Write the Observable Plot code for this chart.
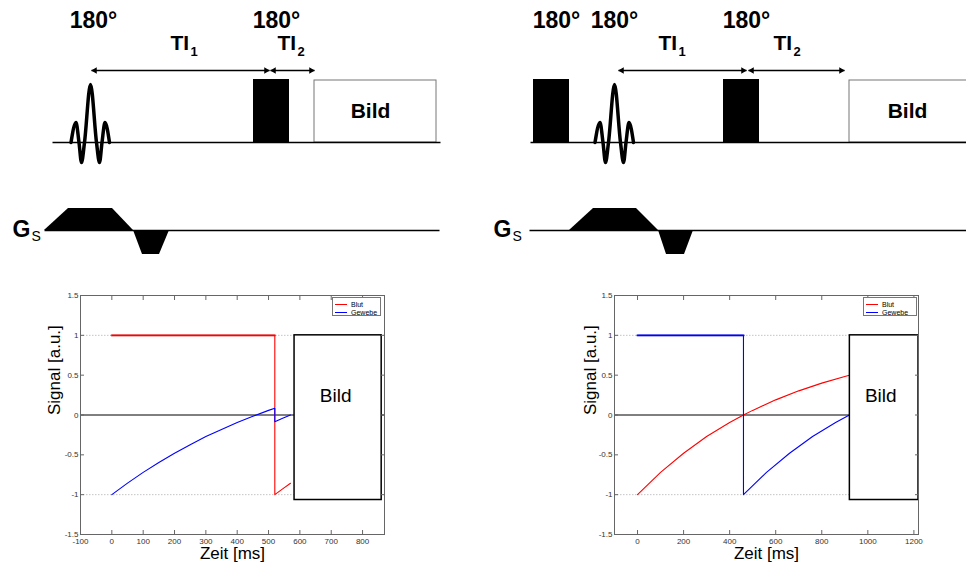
<!DOCTYPE html>
<html><head><meta charset="utf-8">
<script src="https://cdn.jsdelivr.net/npm/d3@7"></script>
<script src="https://cdn.jsdelivr.net/npm/@observablehq/plot@0.6"></script>
<style>
body{margin:0;background:#fff;}
#root{position:relative;width:966px;height:563px;overflow:hidden;background:#fff;font-family:"Liberation Sans",Arial,sans-serif;}
#root > *{position:absolute;}
.legend{border:1px solid #777;background:#fff;font-size:7px;padding:2px 0 0 2px;box-sizing:border-box;color:#000;}
.legend .row{display:flex;align-items:center;height:8px;white-space:nowrap;}
.legend .sw{width:12px;height:0;border-top:1px solid;margin-right:4px;}
</style></head>
<body><div id="root"></div>
<script>
const FONT = '"Liberation Sans", Arial, sans-serif';

// ---------- schematic sequence diagram (schematic units) ----------
const rfBaseY = 142, gsBaseY = 230;
const rfLineX1 = [52, 530], rfLineX2 = [440, 966];
const gsLineX1 = [44, 529], gsLineX2 = [439, 966];
const hardPulseX1 = [253, 533, 723], hardPulseX2 = [289, 569, 759], hardPulseTop = 79;
const bildBoxX1 = [314, 849], bildBoxX2 = [436, 975], bildBoxTop = 80;
const sincCenters = [90, 614];
const sincDx = [-19.5, -14.5, -11.5, -9, -6, 0, 6, 9, 11.5, 14.5, 19];
const sincDy = [0, -20, 0, 20, 0, -58, 0, 20, 0, -20, 0];
const gsPosX = [[44, 68, 112, 133], [569, 593, 636, 658]], gsPosLevel = [0, -22, -22, 0];
const gsNegX = [[133, 142, 159, 169], [658, 666, 684, 693]], gsNegLevel = [0, 24, 24, 0];
const arrowX1 = [91, 270, 618, 748], arrowX2 = [269, 314, 746, 844], arrowY = 70;
const label180X = [93, 276, 556, 614, 746], label180Y = 20;
const tiLabelX = [170, 277, 658, 773], tiSubX = [190, 297, 678, 793], tiSub = ["1", "2", "1", "2"];
const bildLabelX = [370, 907], bildLabelY = 111;
const gLabelX = [12, 493], sLabelX = [31, 512];

// ---------- signal curves ----------
const lBlutT = [0, 520, 520, 545, 570];
const lBlutV = [1, 1, -1, -0.928, -0.857];
const lGewT = [0, 50, 100, 150, 200, 250, 300, 350, 400, 450, 500, 520, 520, 545, 570];
const lGewV = [-1, -0.855, -0.72, -0.596, -0.48, -0.373, -0.27, -0.181, -0.095, -0.016, 0.058, 0.085, -0.085, -0.04, 0];
const rBlutT = [0, 100, 200, 300, 400, 460, 500, 600, 700, 800, 900, 920];
const rBlutV = [-1, -0.72, -0.48, -0.27, -0.095, 0, 0.058, 0.19, 0.303, 0.40, 0.484, 0.50];
const rGewT = [0, 460, 460, 560, 660, 760, 860, 920];
const rGewV = [1, 1, -1, -0.72, -0.48, -0.27, -0.095, 0];
const lXTicks = [-100, 0, 100, 200, 300, 400, 500, 600, 700, 800];
const rXTicks = [0, 200, 400, 600, 800, 1000, 1200];
const yTicks = [-1.5, -1, -0.5, 0, 0.5, 1, 1.5];
const refLevels = [-1, 1];
const lBildX = [583, 861], rBildX = [922, 1220], bildY = [-1.067, 1];
const lBildText = [714, 0.24], rBildText = [1056, 0.24];
const legendNames = ["Blut", "Gewebe"], legendColors = ["#ff0000", "#0000ff"];

const root = document.getElementById("root");

// ---- top diagram ----
const segs = (X1, X2, y) => X1.map((x1, i) => ({x1, x2: X2[i], y}));
const sincRows = sincCenters.flatMap((c, k) => sincDx.map((dx, i) => ({k, x: c + dx, y: rfBaseY + sincDy[i]})));
const gsRows = [
  ...gsPosX.flatMap((xs, k) => xs.map((x, i) => ({z: "p" + k, x, y: gsBaseY + gsPosLevel[i]}))),
  ...gsNegX.flatMap((xs, k) => xs.map((x, i) => ({z: "n" + k, x, y: gsBaseY + gsNegLevel[i]})))
];
const arrows = segs(arrowX1, arrowX2, arrowY);

const diagramSvg = Plot.plot({
  width: 966, height: 270, margin: 0,
  x: {domain: [0, 966], range: [0, 966], axis: null},
  y: {domain: [0, 270], range: [0, 270], axis: null},
  style: {fontFamily: FONT, background: "transparent", color: "#000"},
  marks: [
    Plot.rect(segs(bildBoxX1, bildBoxX2, 0), {x1: "x1", x2: "x2", y1: bildBoxTop, y2: rfBaseY, fill: "white", stroke: "#777", strokeWidth: 1}),
    Plot.link(segs(rfLineX1, rfLineX2, rfBaseY), {x1: "x1", x2: "x2", y1: "y", y2: "y", stroke: "#000", strokeWidth: 1.3}),
    Plot.link(segs(gsLineX1, gsLineX2, gsBaseY), {x1: "x1", x2: "x2", y1: "y", y2: "y", stroke: "#000", strokeWidth: 1.3}),
    Plot.rect(segs(hardPulseX1, hardPulseX2, 0), {x1: "x1", x2: "x2", y1: hardPulseTop, y2: rfBaseY, fill: "#000"}),
    Plot.line(sincRows, {x: "x", y: "y", z: "k", stroke: "#000", strokeWidth: 3.5, curve: "monotone-x", strokeLinejoin: "round"}),
    Plot.areaY(gsRows, {x: "x", y1: gsBaseY, y2: "y", z: "z", fill: "#000", curve: "linear"}),
    Plot.link(arrows, {x1: "x1", x2: "x2", y1: "y", y2: "y", stroke: "#000", strokeWidth: 1.3}),
    Plot.dot(arrows, {x: "x1", y: "y", symbol: "triangle", r: 2.4, rotate: -90, dx: 3.4, fill: "#000", stroke: null}),
    Plot.dot(arrows, {x: "x2", y: "y", symbol: "triangle", r: 2.4, rotate: 90, dx: -3.4, fill: "#000", stroke: null}),
    Plot.text(label180X, {x: d => d, y: label180Y, text: () => "180°", fontSize: 23, fontWeight: "bold"}),
    Plot.text(tiLabelX, {x: d => d, y: 43, text: () => "TI", textAnchor: "start", fontSize: 21, fontWeight: "bold"}),
    Plot.text(tiSubX, {x: d => d, y: 51, text: (d, i) => tiSub[i], textAnchor: "start", fontSize: 13, fontWeight: "bold"}),
    Plot.text(bildLabelX, {x: d => d, y: bildLabelY, text: () => "Bild", fontSize: 21, fontWeight: "bold"}),
    Plot.text(gLabelX, {x: d => d, y: 229, text: () => "G", textAnchor: "start", fontSize: 23, fontWeight: "bold"}),
    Plot.text(sLabelX, {x: d => d, y: 236, text: () => "S", textAnchor: "start", fontSize: 14})
  ]
});
diagramSvg.style.left = "0px"; diagramSvg.style.top = "0px";
root.appendChild(diagramSvg);

// ---- signal plots ----
function signalPlot({left, width, marginLeft, xDomain, xTicks, blut, gew, flat, bildX, bildText, labelDx}) {
  const rows = (T, V) => T.map((t, i) => ({t, v: V[i]}));
  const fmt = d => String(d);
  const svg = Plot.plot({
    width, height: 278, marginLeft, marginRight: 5, marginTop: 10, marginBottom: 29,
    x: {domain: xDomain},
    y: {domain: [-1.5, 1.5]},
    style: {fontFamily: FONT, fontSize: "8px", color: "#333", background: "white", overflow: "visible"},
    marks: [
      Plot.ruleY(refLevels, {stroke: "#c4c4c4", strokeDasharray: "1.5,1.5"}),
      Plot.ruleY([0], {stroke: "#000", strokeWidth: 1}),
      Plot.line(rows(flat.T, flat.V), {x: "t", y: "v", stroke: flat.color, strokeWidth: 2.4}),
      Plot.line(rows(blut[0], blut[1]), {x: "t", y: "v", stroke: "#ff0000", strokeWidth: 1.1}),
      Plot.line(rows(gew[0], gew[1]), {x: "t", y: "v", stroke: "#0000ff", strokeWidth: 1.1}),
      Plot.rect([0], {x1: bildX[0], x2: bildX[1], y1: bildY[0], y2: bildY[1], fill: "white", stroke: "#000", strokeWidth: 1.5}),
      Plot.text([0], {x: bildText[0], y: bildText[1], text: () => "Bild", fontSize: 19, fill: "#000"}),
      Plot.frame({stroke: "#666"}),
      Plot.axisX({ticks: xTicks, anchor: "bottom", tickSize: -4, tickPadding: 8, tickFormat: fmt, label: null, stroke: "#666"}),
      Plot.axisX({ticks: xTicks, anchor: "top", tickSize: -4, tickPadding: 7, tickFormat: () => "", label: null, stroke: "#666"}),
      Plot.axisY({ticks: yTicks, anchor: "left", tickSize: -4, tickPadding: 6, tickFormat: fmt, label: null, stroke: "#666"}),
      Plot.axisY({ticks: yTicks, anchor: "right", tickSize: -4, tickPadding: 6, tickFormat: () => "", label: null, stroke: "#666"}),
      Plot.text(["Signal [a.u.]"], {text: d => d, frameAnchor: "left", dx: labelDx, rotate: -90, lineAnchor: "middle", fontSize: 17, fill: "#000"}),
      Plot.text(["Zeit [ms]"], {text: d => d, frameAnchor: "bottom", dy: 19.5, lineAnchor: "middle", fontSize: 17, fill: "#000"})
    ]
  });
  svg.style.left = left + "px"; svg.style.top = "285px";
  return svg;
}

root.appendChild(signalPlot({
  left: 30, width: 359, marginLeft: 50, xDomain: [-100, 870], xTicks: lXTicks,
  blut: [lBlutT, lBlutV], gew: [lGewT, lGewV],
  flat: {T: lBlutT.slice(0, 2), V: lBlutV.slice(0, 2), color: "#e86464"},
  bildX: lBildX, bildText: lBildText, labelDx: -26
}));
root.appendChild(signalPlot({
  left: 584, width: 339, marginLeft: 30, xDomain: [-100, 1220], xTicks: rXTicks,
  blut: [rBlutT, rBlutV], gew: [rGewT, rGewV],
  flat: {T: rGewT.slice(0, 2), V: rGewV.slice(0, 2), color: "#6464f0"},
  bildX: rBildX, bildText: rBildText, labelDx: -24
}));

// ---- legends ----
function legend(left, width) {
  const div = document.createElement("div");
  div.className = "legend";
  div.style.left = left + "px"; div.style.top = "297px";
  div.style.width = width + "px"; div.style.height = "19px";
  legendNames.forEach((n, i) => {
    const row = document.createElement("div"); row.className = "row";
    const sw = document.createElement("span"); sw.className = "sw"; sw.style.borderTopColor = legendColors[i];
    row.appendChild(sw); row.appendChild(document.createTextNode(n));
    div.appendChild(row);
  });
  root.appendChild(div);
}
legend(332, 49);
legend(863, 54);
</script></body></html>
